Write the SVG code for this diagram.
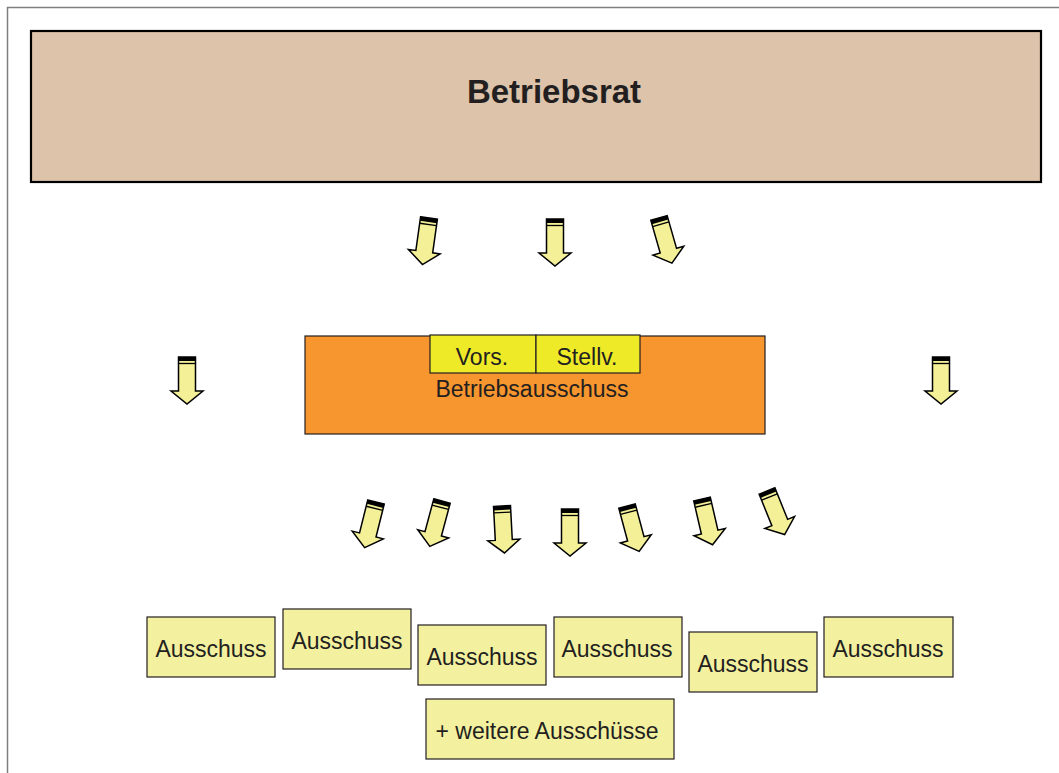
<svg xmlns="http://www.w3.org/2000/svg" xmlns:xlink="http://www.w3.org/1999/xlink" width="1059" height="773" viewBox="0 0 1059 773">
<style>
text{font-family:"Liberation Sans",Arial,sans-serif;fill:#231f20;text-anchor:middle}
.box{fill:#f3f1a0;stroke:#231f20;stroke-width:1.2}
.lbl{font-size:23px}
.arr{fill:#f3f098;stroke:#000;stroke-width:1.5;stroke-linejoin:miter}
</style>
<defs>
<g id="arrow">
<path class="arr" d="M-8.5,0 H8.5 V34 H16 L0,47 L-16,34 H-8.5 Z"/>
<rect x="-8.5" y="0" width="17" height="4" fill="#000"/>
<line x1="-8.5" y1="6.5" x2="8.5" y2="6.5" stroke="#000" stroke-width="1.3"/>
</g>
</defs>
<rect x="0" y="0" width="1059" height="773" fill="#fff"/>
<path d="M7.5,773 V7.5 H1059" fill="none" stroke="#7f7f7f" stroke-width="1.5"/>
<g id="betriebsrat">
<rect x="31" y="31" width="1010" height="151" fill="#dcc3aa" stroke="#000" stroke-width="2.2"/>
<text x="554" y="103" font-size="33" font-weight="bold">Betriebsrat</text>
</g>
<g id="connectors">
<use xlink:href="#arrow" transform="translate(429,218) rotate(8)"/>
<use xlink:href="#arrow" transform="translate(555,219)"/>
<use xlink:href="#arrow" transform="translate(659,218) rotate(-16)"/>
<use xlink:href="#arrow" transform="translate(187,357)"/>
<use xlink:href="#arrow" transform="translate(941,357)"/>
<use xlink:href="#arrow" transform="translate(376,502) rotate(14)"/>
<use xlink:href="#arrow" transform="translate(442,501) rotate(15)"/>
<use xlink:href="#arrow" transform="translate(502,506) rotate(-3)"/>
<use xlink:href="#arrow" transform="translate(570,509)"/>
<use xlink:href="#arrow" transform="translate(627,506) rotate(-15)"/>
<use xlink:href="#arrow" transform="translate(702,499) rotate(-13)"/>
<use xlink:href="#arrow" transform="translate(767,491) rotate(-22)"/>
</g>
<g id="betriebsausschuss">
<rect x="305" y="336" width="460" height="98" fill="#f7952e" stroke="#231f20" stroke-width="1.2"/>
<text class="lbl" x="532" y="397">Betriebsausschuss</text>
</g>
<g id="vors">
<rect x="430" y="335" width="106" height="38" fill="#eeea28" stroke="#231f20" stroke-width="1.2"/>
<text class="lbl" x="482" y="365">Vors.</text>
</g>
<g id="stellv">
<rect x="536" y="335" width="104" height="38" fill="#eeea28" stroke="#231f20" stroke-width="1.2"/>
<text class="lbl" x="587" y="365">Stellv.</text>
</g>
<g id="ausschuss1"><rect class="box" x="147" y="617" width="128" height="60"/><text class="lbl" x="211" y="657">Ausschuss</text></g>
<g id="ausschuss2"><rect class="box" x="283" y="609" width="128" height="60"/><text class="lbl" x="347" y="649">Ausschuss</text></g>
<g id="ausschuss3"><rect class="box" x="418" y="625" width="128" height="60"/><text class="lbl" x="482" y="665">Ausschuss</text></g>
<g id="ausschuss4"><rect class="box" x="554" y="617" width="128" height="60"/><text class="lbl" x="617" y="657">Ausschuss</text></g>
<g id="ausschuss5"><rect class="box" x="689" y="632" width="128" height="60"/><text class="lbl" x="753" y="672">Ausschuss</text></g>
<g id="ausschuss6"><rect class="box" x="824" y="617" width="129" height="60"/><text class="lbl" x="888" y="657">Ausschuss</text></g>
<g id="weitere"><rect class="box" x="426" y="699" width="248" height="60"/><text class="lbl" x="547" y="739">+ weitere Ausschüsse</text></g>
</svg>
